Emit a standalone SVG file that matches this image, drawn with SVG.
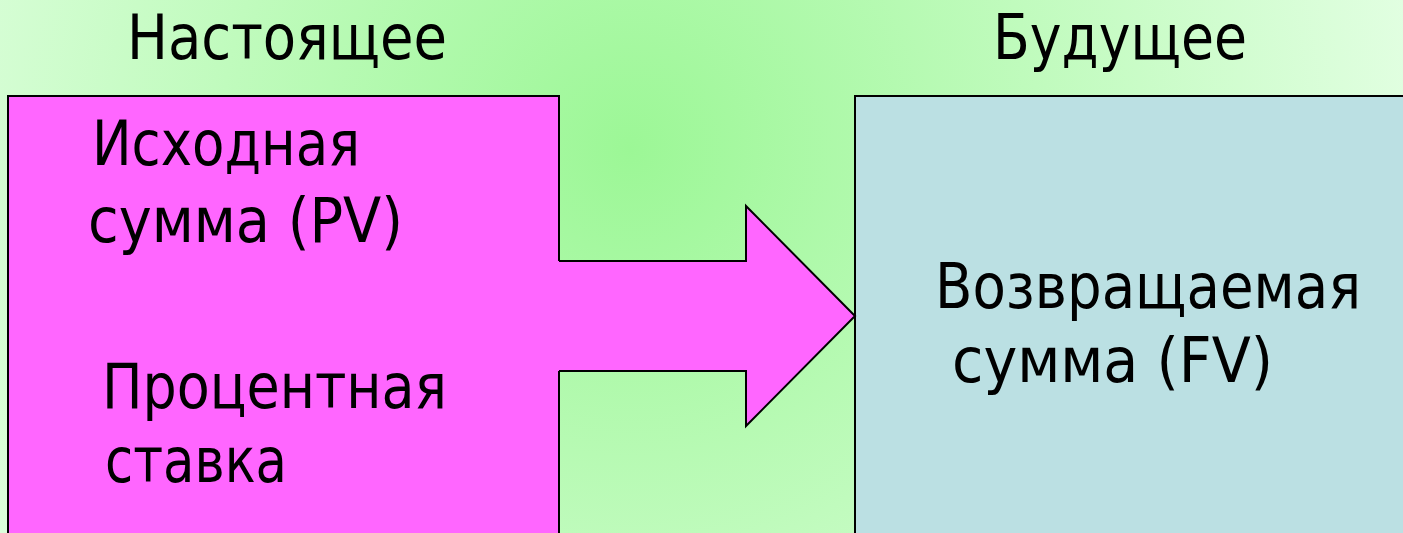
<svg xmlns="http://www.w3.org/2000/svg" width="1403" height="533" viewBox="0 0 1403 533">
  <defs>
    <radialGradient id="bg" gradientUnits="userSpaceOnUse" cx="630" cy="150" r="820">
      <stop offset="0" stop-color="#9cf796"/>
      <stop offset="1" stop-color="#e4ffe4"/>
    </radialGradient>
  </defs>
  <style>
    .lbl { font-family: "DejaVu Sans Condensed", "DejaVu Sans", "Liberation Sans", sans-serif; font-stretch: condensed; font-size: 62px; fill: #000; }
    .box { stroke: #000; stroke-width: 2; }
  </style>
  <rect x="0" y="0" width="1403" height="533" fill="url(#bg)"/>
  <text class="lbl" x="127" y="59" textLength="320" lengthAdjust="spacingAndGlyphs">Настоящее</text>
  <text class="lbl" x="993" y="59" textLength="254" lengthAdjust="spacingAndGlyphs">Будущее</text>
  <g id="present">
    <rect class="box" x="8" y="96" width="551" height="450" fill="#ff66ff"/>
    <text class="lbl" x="92" y="165" textLength="268" lengthAdjust="spacingAndGlyphs">Исходная</text>
    <text class="lbl" x="88" y="242" textLength="315" lengthAdjust="spacingAndGlyphs">сумма (PV)</text>
    <text class="lbl" x="102" y="408" textLength="345" lengthAdjust="spacingAndGlyphs">Процентная</text>
    <text class="lbl" x="105" y="482" textLength="182" lengthAdjust="spacingAndGlyphs">ставка</text>
  </g>
  <g id="future">
    <rect class="box" x="855" y="96" width="560" height="450" fill="#bbe0e3"/>
    <text class="lbl" x="935" y="308" textLength="426" lengthAdjust="spacingAndGlyphs">Возвращаемая</text>
    <text class="lbl" x="952" y="382" textLength="321" lengthAdjust="spacingAndGlyphs">сумма (FV)</text>
  </g>
  <g id="connectors">
    <polygon points="555,261 746,261 746,206 855,316 746,426 746,371 555,371" fill="#ff66ff"/>
    <polyline points="559,261 746,261 746,206 855,316 746,426 746,371 559,371" fill="none" stroke="#000" stroke-width="2" stroke-linejoin="miter"/>
  </g>
</svg>
